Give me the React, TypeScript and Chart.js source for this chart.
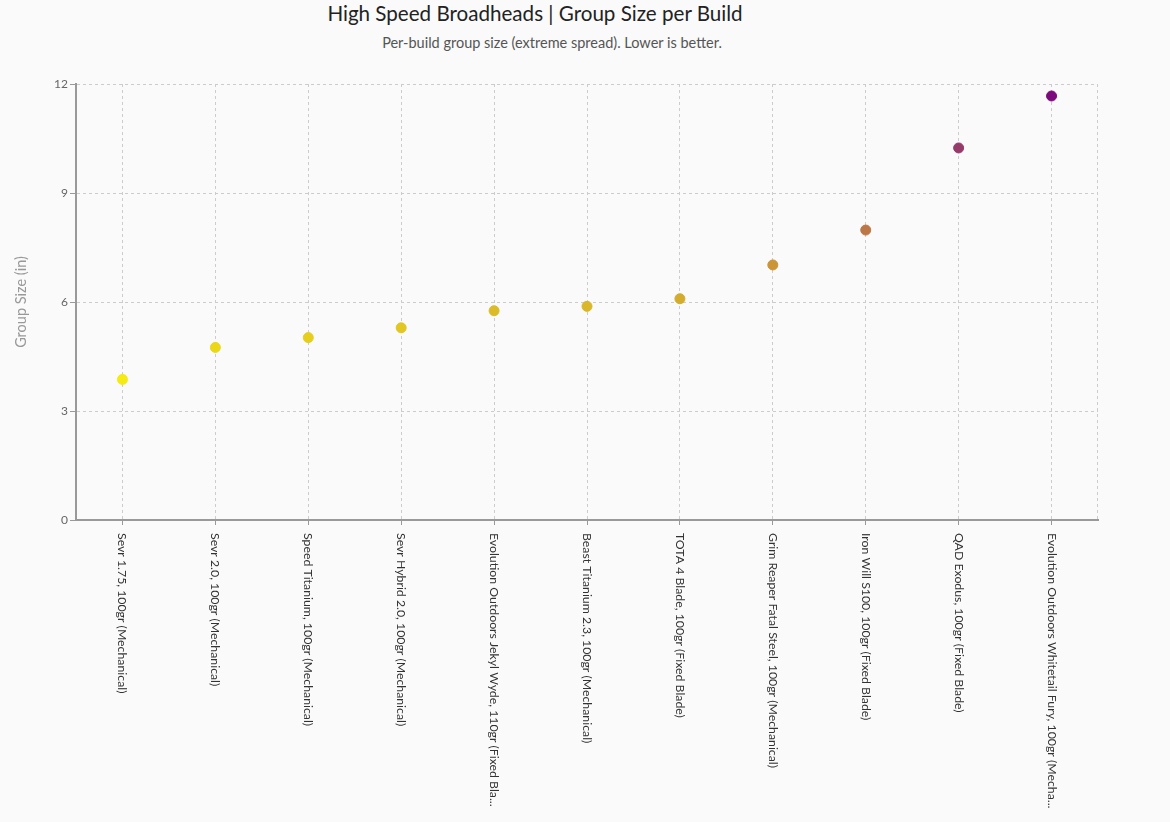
import { useEffect, useRef } from 'react';
import Chart from 'chart.js/auto';

const builds = [
  'Sevr 1.75, 100gr (Mechanical)',
  'Sevr 2.0, 100gr (Mechanical)',
  'Speed Titanium, 100gr (Mechanical)',
  'Sevr Hybrid 2.0, 100gr (Mechanical)',
  'Evolution Outdoors Jekyl Wyde, 110gr (Fixed Blade)',
  'Beast Titanium 2.3, 100gr (Mechanical)',
  'TOTA 4 Blade, 100gr (Fixed Blade)',
  'Grim Reaper Fatal Steel, 100gr (Mechanical)',
  'Iron Will S100, 100gr (Fixed Blade)',
  'QAD Exodus, 100gr (Fixed Blade)',
  'Evolution Outdoors Whitetail Fury, 100gr (Mechanical)',
];
const groupSize = [3.87, 4.75, 5.02, 5.29, 5.76, 5.88, 6.09, 7.02, 7.98, 10.24, 11.67];
const yTicks = [0, 3, 6, 9, 12];

const pointColors = [
  '#f6ea14', '#ebd718', '#e6ce1e', '#e2c622', '#dcbb28', '#d9b62a',
  '#d4ac2d', '#ca9437', '#bd7746', '#963a6a', '#7c0a7c',
];

const FONT = 'Lato, "Open Sans", sans-serif';
const GRID = '#cccccc';

const shortLabel = (s: string) => (s.length > 48 ? s.slice(0, 47) + '...' : s);

// right edge dashed line + x labels reading top-to-bottom (not native in chart.js)
const extras = {
  id: 'extras',
  beforeDatasetsDraw(chart: any) {
    const { ctx, chartArea } = chart;
    ctx.save();
    ctx.strokeStyle = GRID;
    ctx.lineWidth = 1;
    ctx.setLineDash([3, 3]);
    ctx.beginPath();
    ctx.moveTo(chartArea.right - 0.5, chartArea.top);
    ctx.lineTo(chartArea.right - 0.5, chartArea.bottom);
    ctx.stroke();
    ctx.restore();
  },
  afterDraw(chart: any) {
    const scale = chart.scales.x;
    const ctx = chart.ctx;
    ctx.save();
    ctx.font = `12.3px ${FONT}`;
    ctx.fillStyle = '#333';
    ctx.textAlign = 'left';
    ctx.textBaseline = 'middle';
    scale.ticks.forEach((_t: any, i: number) => {
      const x = scale.getPixelForTick(i);
      ctx.save();
      ctx.translate(x, scale.top + 13);
      ctx.rotate(Math.PI / 2);
      ctx.fillText(shortLabel(String(chart.data.labels[i])), 0, 0);
      ctx.restore();
    });
    ctx.restore();
  },
};

const GroupSizeChart = () => {
  const chartRef = useRef<HTMLCanvasElement>(null);

  useEffect(() => {
    document.body.style.margin = '0';
    document.body.style.background = '#fafafa';
    const ctx = chartRef.current?.getContext('2d');
    if (!ctx) return;

    const chartInstance = new Chart(ctx, {
      type: 'line',
      data: {
        labels: builds,
        datasets: [
          {
            label: 'Group Size (in)',
            data: groupSize,
            showLine: false,
            pointRadius: 5,
            pointHoverRadius: 6,
            pointBackgroundColor: pointColors,
            pointBorderColor: pointColors,
            pointBorderWidth: 1,
          },
        ],
      },
      options: {
        responsive: true,
        maintainAspectRatio: false,
        animation: false,
        layout: { padding: { top: 24, right: 72, bottom: 0, left: 0 } },
        plugins: {
          legend: { display: false },
        },
        scales: {
          x: {
            type: 'category',
            offset: true,
            afterFit: (scale: any) => {
              scale.height = 302;
            },
            ticks: { display: false },
            grid: {
              color: GRID,
              lineWidth: 1,
              offset: false,
              tickLength: 5,
              tickColor: '#999',
              tickBorderDash: [],
              tickWidth: 1,
            },
            border: { display: true, color: '#999', width: 2, dash: [3, 3] },
          },
          y: {
            min: 0,
            max: 12,
            afterFit: (scale: any) => {
              scale.width = 76;
            },
            afterBuildTicks: (scale: any) => {
              scale.ticks = yTicks.map((v) => ({ value: v }));
            },
            ticks: {
              color: '#666',
              padding: 2,
              font: { family: FONT, size: 12 },
            },
            title: {
              display: true,
              text: 'Group Size (in)',
              color: '#999',
              font: { family: FONT, size: 14.5 },
              padding: { top: 13, bottom: 0 },
            },
            grid: {
              color: GRID,
              tickLength: 6,
              tickColor: '#999',
              tickBorderDash: [],
              tickWidth: 1,
            },
            border: { display: true, color: '#999', width: 2, dash: [3, 3] },
          },
        },
      },
      plugins: [extras],
    });

    return () => chartInstance.destroy();
  }, []);

  return (
    <div style={{ position: 'relative', width: 1170, height: 822, background: '#fafafa', fontFamily: FONT }}>
      <div style={{ position: 'absolute', top: 0, left: 0, width: 1070, textAlign: 'center', fontSize: 20.6, lineHeight: '26px', color: '#222' }}>
        High Speed Broadheads | Group Size per Build
      </div>
      <div style={{ position: 'absolute', top: 34, left: 0, width: 1104, textAlign: 'center', fontSize: 14.5, lineHeight: '18px', color: '#555' }}>
        Per-build group size (extreme spread). Lower is better.
      </div>
      <div style={{ position: 'absolute', top: 60, left: 0, width: 1170, height: 762 }}>
        <canvas ref={chartRef} />
      </div>
    </div>
  );
};

export default function App() {
  return <GroupSizeChart />;
}
